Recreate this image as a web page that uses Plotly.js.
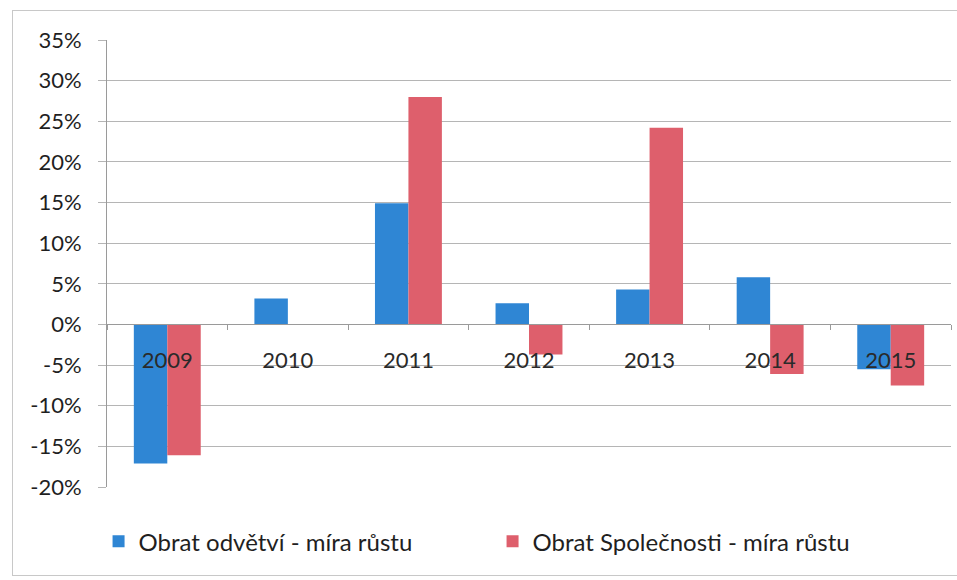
<!DOCTYPE html>
<html>
<head>
<meta charset="utf-8">
<script src="https://cdn.plot.ly/plotly-3.0.1.min.js"></script>
<style>
html,body{margin:0;padding:0;background:#fff;}
#wrap{position:relative;width:957px;height:580px;overflow:hidden;}
#frame{position:absolute;left:12px;top:10px;width:960px;height:566px;border:1px solid #c8c8c8;box-sizing:border-box;pointer-events:none;}
#chart{position:absolute;left:0;top:0;width:957px;height:580px;}
</style>
</head>
<body>
<div id="wrap">
<div id="chart"></div>
<div id="frame"></div>
</div>
<script>
const years = ['2009','2010','2011','2012','2013','2014','2015'];
const seriesNames = ['Obrat odvětví - míra růstu', 'Obrat Společnosti - míra růstu'];
const odvetvi = [-0.171, 0.032, 0.149, 0.026, 0.043, 0.058, -0.055];
const spolecnost = [-0.161, 0, 0.280, -0.037, 0.242, -0.061, -0.075];
const yTicks = [-0.20,-0.15,-0.10,-0.05,0,0.05,0.10,0.15,0.20,0.25,0.30,0.35];
const yTickText = ['-20%','-15%','-10%','-5%','0%','5%','10%','15%','20%','25%','30%','35%'];

const font = 'Lato, "Open Sans", "DejaVu Sans", sans-serif';
const traces = [
  {type:'bar', name:seriesNames[0], x:years, y:odvetvi, marker:{color:'#2F86D4'}},
  {type:'bar', name:seriesNames[1], x:years, y:spolecnost, marker:{color:'#DE5F6C'}}
];
const yMin = -0.20, yMax = 0.35;
const layout = {
  width:957, height:580,
  margin:{l:107, r:6, t:40, b:93},
  paper_bgcolor:'#fff', plot_bgcolor:'#fff',
  barmode:'group', bargap:0.445, bargroupgap:0,
  font:{family:font, color:'#1f1f1f', size:20},
  showlegend:true,
  legend:{orientation:'h', x:-0.010, xanchor:'left', y:-0.072, yanchor:'top',
          entrywidth:349, entrywidthmode:'pixels', itemwidth:30,
          font:{family:font, size:24, color:'#1f1f1f'}, traceorder:'normal'},
  xaxis:{type:'category', anchor:'free', position:(0 - yMin)/(yMax - yMin),
         showline:true, linecolor:'#9a9a9a', linewidth:1,
         ticks:'outside', tickson:'boundaries', ticklen:5, tickcolor:'#9a9a9a',
         ticklabelstandoff:16, showgrid:false,
         tickfont:{family:font, size:22, color:'#2a2a2a'}},
  yaxis:{range:[yMin, yMax], tickvals:yTicks, ticktext:yTickText,
         showgrid:true, gridcolor:'#b5b5b5', gridwidth:1,
         showline:true, linecolor:'#9a9a9a', linewidth:1,
         ticks:'outside', ticklen:8, tickcolor:'#b5b5b5',
         ticklabelstandoff:12, zeroline:false,
         tickfont:{family:font, size:22, color:'#1f1f1f'}}
};
Plotly.newPlot('chart', traces, layout, {displayModeBar:false, staticPlot:true});
</script>
</body>
</html>
